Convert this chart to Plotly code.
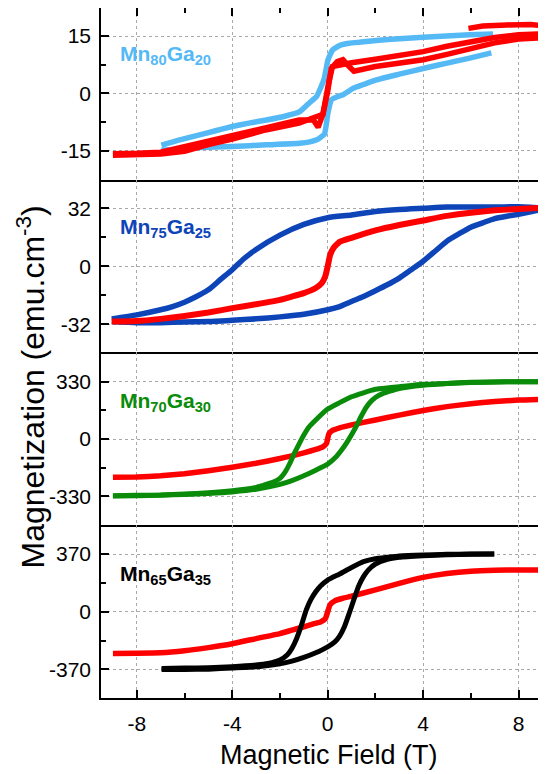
import plotly.graph_objects as go

# ---------------- Data ----------------
# Panel 1: Mn80Ga20
h_mn80_down = [6.93, 5.95, 4.0, 3.0, 2.04, 1.4, 0.9, 0.5, 0.2, 0.01, -0.15, -0.47, -0.75, -1.17, -1.8, -2.57, -3.3, -4.0, -4.7, -5.37, -6.2, -6.97]
m_mn80_down = [15.5, 15.3, 14.7, 14.3, 13.8, 13.4, 13.1, 12.5, 11.3, 8.7, 3.7, -0.9, -2.4, -4.8, -6.0, -7.0, -7.8, -8.7, -9.8, -10.9, -12.2, -13.6]
h_mn80_up = [-6.97, -6.0, -5.37, -4.0, -2.57, -1.17, -0.75, -0.4, -0.13, 0.01, 0.15, 0.4, 0.64, 1.06, 1.5, 2.04, 3.0, 4.0, 5.0, 5.95, 6.86]
m_mn80_up = [-14.9, -14.5, -14.2, -13.9, -13.5, -13.1, -12.7, -12.0, -10.6, -5.2, -1.75, -0.9, -0.4, 1.3, 2.3, 3.5, 5.0, 6.5, 7.9, 9.2, 10.6]

h_mn80_ref_top = [5.9, 6.5, 7.5, 8.5, 9.1]
m_mn80_ref_top = [17.0, 17.6, 17.9, 18.0, 17.6]
h_mn80_ref_down = [9.1, 8.0, 7.0, 6.0, 5.0, 4.0, 3.0, 2.0, 1.0, 0.5, 0.2, 0.05, -0.1, -0.2, -0.4, -0.6, -1.2, -2.6, -4.0, -5.0, -6.0, -7.0, -8.0, -9.0]
m_mn80_ref_down = [15.6, 15.3, 14.6, 13.6, 12.3, 10.9, 9.8, 8.9, 8.0, 7.6, 7.0, 3.0, -2.5, -5.5, -8.9, -7.0, -7.0, -9.0, -11.0, -12.3, -14.0, -15.4, -15.7, -15.8]
h_mn80_ref_up = [-9.0, -7.0, -6.0, -5.0, -4.0, -2.6, -1.2, -0.6, -0.2, 0.0, 0.15, 0.4, 0.64, 0.9, 1.1, 2.0, 3.0, 4.0, 5.0, 6.0, 7.0, 8.0, 9.1]
m_mn80_ref_up = [-16.2, -15.9, -15.2, -13.4, -12.0, -9.6, -7.8, -6.5, -5.5, 0.5, 6.5, 8.3, 8.8, 7.0, 5.8, 7.0, 7.9, 8.8, 10.2, 11.8, 13.2, 14.2, 14.6]

# Panel 2: Mn75Ga25
h_mn75_down = [9.05, 8.5, 8.0, 7.0, 6.0, 5.0, 4.0, 3.0, 2.0, 1.0, 0.0, -1.0, -2.0, -3.0, -3.5, -4.0, -4.5, -5.0, -5.5, -6.0, -6.5, -7.0, -8.0, -9.05]
m_mn75_down = [32.0, 32.6, 32.9, 32.7, 32.7, 32.7, 32.0, 31.3, 30.2, 28.3, 26.8, 23.1, 17.2, 9.3, 4.3, -1.9, -7.4, -13.0, -16.7, -19.8, -22.2, -24.0, -26.8, -29.0]
h_mn75_up = [-9.05, -8.0, -7.0, -6.0, -5.0, -4.0, -3.0, -2.0, -1.0, 0.0, 0.5, 1.0, 1.5, 2.0, 2.5, 3.0, 3.5, 4.0, 4.5, 5.0, 5.5, 6.0, 6.5, 7.0, 7.5, 8.0, 8.5, 9.05]
m_mn75_up = [-30.5, -31.1, -31.1, -30.7, -30.5, -29.8, -29.0, -27.9, -26.5, -24.0, -22.2, -19.4, -16.7, -13.5, -10.2, -6.5, -1.9, 2.8, 8.3, 13.9, 17.9, 21.6, 24.0, 26.3, 27.6, 28.7, 30.0, 31.6]
h_mn75_ref = [-9.05, -8.0, -7.0, -6.0, -5.0, -4.0, -3.0, -2.0, -1.5, -1.0, -0.5, -0.25, -0.1, 0.0, 0.1, 0.25, 0.5, 1.0, 2.0, 3.0, 4.0, 5.0, 6.0, 7.0, 8.0, 9.05]
m_mn75_ref = [-30.5, -30.2, -29.0, -27.4, -25.5, -23.1, -20.9, -18.5, -16.7, -14.8, -12.0, -9.3, -5.5, 0.0, 6.1, 10.2, 13.5, 15.7, 19.8, 22.8, 25.3, 27.8, 29.6, 30.9, 31.6, 32.4]

# Panel 3: Mn70Ga30
h_mn70_down = [8.95, 8.0, 7.0, 6.0, 5.0, 4.0, 3.0, 2.3, 2.0, 1.5, 1.0, 0.5, 0.0, -0.5, -0.8, -1.0, -1.2, -1.4, -1.6, -1.8, -2.0, -2.3, -2.7, -3.0, -4.0, -5.0, -6.0, -7.0, -8.0, -9.0]
m_mn70_down = [331, 331, 329, 327, 321, 316, 302, 292, 287, 267, 244, 210, 173, 110, 67, 23, -29, -83, -144, -194, -227, -250, -267, -279, -298, -310, -317, -323, -325, -327]
h_mn70_up = [-9.0, -8.0, -7.0, -6.0, -5.0, -4.0, -3.0, -2.0, -1.5, -1.0, -0.5, 0.0, 0.3, 0.6, 0.8, 1.0, 1.2, 1.4, 1.6, 1.8, 2.0, 2.3, 2.7, 3.0, 4.0, 5.0, 6.0, 7.0, 8.0, 8.95]
m_mn70_up = [-329, -327, -324, -320, -314, -305, -290, -262, -240, -212, -180, -145, -110, -60, -20, 25, 75, 130, 180, 215, 240, 262, 280, 292, 310, 320, 326, 329, 331, 331]
h_mn70_ref = [-9.0, -8.0, -7.0, -6.0, -5.0, -4.0, -3.0, -2.0, -1.5, -1.0, -0.5, -0.2, -0.05, 0.05, 0.2, 0.5, 1.0, 2.0, 3.0, 4.0, 5.0, 6.0, 7.0, 8.0, 8.95]
m_mn70_ref = [-221, -219, -212, -200, -183, -163, -140, -112, -97, -80, -60, -45, -25, 30, 50, 65, 82, 110, 138, 165, 187, 204, 216, 225, 229]

# Panel 4: Mn65Ga35
h_mn65_down = [6.98, 6.0, 5.0, 4.0, 3.0, 2.5, 2.0, 1.5, 1.0, 0.5, 0.0, -0.3, -0.5, -0.7, -0.9, -1.1, -1.3, -1.5, -1.7, -2.0, -2.5, -3.0, -4.0, -5.0, -6.0, -6.96]
m_mn65_down = [370, 370, 368, 364, 357, 349, 340, 321, 284, 242, 203, 165, 128, 79, 11, -86, -171, -235, -278, -310, -332, -342, -353, -359, -361, -364]
h_mn65_up = [-6.96, -6.0, -5.0, -4.0, -3.0, -2.5, -2.0, -1.5, -1.0, -0.5, 0.0, 0.3, 0.5, 0.7, 0.9, 1.1, 1.3, 1.5, 1.7, 2.0, 2.5, 3.0, 4.0, 5.0, 6.0, 6.98]
m_mn65_up = [-370, -370, -368, -361, -353, -344, -334, -317, -293, -263, -225, -193, -156, -96, -11, 79, 165, 225, 267, 306, 336, 349, 359, 366, 368, 370]
h_mn65_ref = [-9.0, -8.0, -7.0, -6.0, -5.0, -4.0, -3.0, -2.0, -1.5, -1.0, -0.6, -0.3, -0.1, 0.0, 0.1, 0.3, 0.6, 1.0, 2.0, 3.0, 4.0, 5.0, 6.0, 7.0, 8.0, 8.95]
m_mn65_ref = [-267, -266, -263, -250, -230, -205, -172, -140, -118, -97, -78, -65, -45, 0, 45, 70, 85, 100, 140, 182, 220, 245, 260, 266, 268, 268]

x_tick_vals = [-8, -4, 0, 4, 8]
x_tick_text = ["-8", "-4", "0", "4", "8"]
x_minor_vals = [-6, -2, 2, 6]
y_ticks = [15, 32, 330, 370]
y_ranges = [[-22.7, 22.33], [-47.3, 47.6], [-496, 502], [-553, 556]]
labels = [("Mn", "80", "Ga", "20"), ("Mn", "75", "Ga", "25"), ("Mn", "70", "Ga", "30"), ("Mn", "65", "Ga", "35")]

LIGHT_BLUE = "#55B9F5"
DARK_BLUE = "#0D45B8"
GREEN = "#0A8C0A"
RED = "#FF0000"
BLACK = "#000000"
label_colors = [LIGHT_BLUE, DARK_BLUE, GREEN, BLACK]

fig = go.Figure()

def add(h, m, color, width, ax, smooth=0.0):
    line = dict(color=color, width=width)
    if smooth > 0:
        line.update(shape="spline", smoothing=smooth)
    fig.add_trace(go.Scatter(x=h, y=m, mode="lines", line=line,
                             xaxis="x" if ax == 1 else f"x{ax}",
                             yaxis="y" if ax == 1 else f"y{ax}",
                             hoverinfo="skip"))

# panel 1
add(h_mn80_down, m_mn80_down, LIGHT_BLUE, 5.5, 1, 0.4)
add(h_mn80_up, m_mn80_up, LIGHT_BLUE, 5.5, 1, 0.4)
add(h_mn80_ref_top, m_mn80_ref_top, RED, 5.5, 1)
add(h_mn80_ref_down, m_mn80_ref_down, RED, 5.5, 1)
add(h_mn80_ref_up, m_mn80_ref_up, RED, 5.5, 1)
# panel 2
add(h_mn75_down, m_mn75_down, DARK_BLUE, 5.5, 2, 0.6)
add(h_mn75_up, m_mn75_up, DARK_BLUE, 5.5, 2, 0.6)
add(h_mn75_ref, m_mn75_ref, RED, 6, 2, 0.4)
# panel 3
add(h_mn70_ref, m_mn70_ref, RED, 5.5, 3, 0.4)
add(h_mn70_down, m_mn70_down, GREEN, 5, 3, 0.5)
add(h_mn70_up, m_mn70_up, GREEN, 5, 3, 0.5)
# panel 4
add(h_mn65_ref, m_mn65_ref, RED, 5.5, 4, 0.4)
add(h_mn65_down, m_mn65_down, BLACK, 5, 4, 0.5)
add(h_mn65_up, m_mn65_up, BLACK, 5, 4, 0.5)

TICKFONT = dict(family="Liberation Sans, Arial, sans-serif", size=21, color="black")
GRID = dict(showgrid=True, gridcolor="#A8A8A8", gridwidth=1, griddash="3px,3px")
# page is drawn with an 8px body margin; plot area spans page y 8..698, x 101..546
domains = [[0.7507, 1.0], [0.5014, 0.7507], [0.2507, 0.5014], [0.0, 0.2507]]

layout = dict(width=538, height=766, margin=dict(l=93, r=0, t=0, b=76, autoexpand=False),
              plot_bgcolor="white", paper_bgcolor="white", showlegend=False,
              font=dict(family="Liberation Sans, Arial, sans-serif", color="black"))

for i in range(1, 5):
    xname = "xaxis" if i == 1 else f"xaxis{i}"
    yname = "yaxis" if i == 1 else f"yaxis{i}"
    xa = dict(range=[-9.5, 9.15], domain=[0, 1], anchor="y" if i == 1 else f"y{i}",
              automargin=False, showline=True, linecolor="black", linewidth=1.5,
              zeroline=False, tickmode="array", tickvals=x_tick_vals, ticktext=x_tick_text,
              **GRID)
    if i == 1:
        xa.update(side="top", mirror=True, ticks="inside", ticklen=8, tickwidth=1.5,
                  tickcolor="black", showticklabels=False,
                  minor=dict(tickmode="array", tickvals=x_minor_vals, ticks="inside", ticklen=5,
                             tickwidth=1.5, tickcolor="black", showgrid=False))
    elif i == 4:
        xa.update(side="bottom", ticks="inside", ticklen=8, tickwidth=1.5, tickcolor="black",
                  showticklabels=True, tickfont=TICKFONT, ticklabelstandoff=6,
                  minor=dict(tickmode="array", tickvals=x_minor_vals, ticks="inside", ticklen=5,
                             tickwidth=1.5, tickcolor="black", showgrid=False))
    else:
        xa.update(side="bottom", ticks="", showticklabels=False)
    layout[xname] = xa
    t = y_ticks[i - 1]
    ya = dict(range=y_ranges[i - 1], domain=domains[i - 1], anchor="x" if i == 1 else f"x{i}",
              automargin=False, showline=True, linecolor="black", linewidth=1.5, mirror=False,
              zeroline=False, tickmode="array", tickvals=[-t, 0, t],
              ticktext=[f"-{t}", "0", f"{t}"],
              ticks="inside", ticklen=8, tickwidth=1.5, tickcolor="black",
              tickfont=TICKFONT, ticklabelstandoff=4,
              minor=dict(tickmode="array", tickvals=[-t / 2, t / 2], ticks="inside", ticklen=5,
                         tickwidth=1.5, tickcolor="black", showgrid=False),
              **GRID)
    layout[yname] = ya

fig.update_layout(**layout)

def px_to_paper_x(px):
    return (px - 101) / 445

def px_to_paper_y(py):
    return (698 - py) / 690

# composition labels
label_cap_centers = [51, 224, 397.5, 571]
for (a, s1, b, s2), col, py in zip(labels, label_colors, label_cap_centers):
    fig.add_annotation(text=f"<b>{a}<sub>{s1}</sub>{b}<sub>{s2}</sub></b>",
                       xref="paper", yref="paper",
                       x=px_to_paper_x(118), y=px_to_paper_y(py + 4),
                       xanchor="left", yanchor="middle", showarrow=False,
                       font=dict(family="Liberation Sans, Arial, sans-serif", size=21, color=col))

# axis titles
fig.add_annotation(text="Magnetization (emu.cm<sup>-3</sup>)", xref="paper", yref="paper",
                   x=px_to_paper_x(30), y=px_to_paper_y(387.5), textangle=-90,
                   xanchor="center", yanchor="middle", showarrow=False,
                   font=dict(family="Liberation Sans, Arial, sans-serif", size=32, color="black"))
fig.add_annotation(text="Magnetic Field (T)", xref="paper", yref="paper",
                   x=px_to_paper_x(328.5), y=px_to_paper_y(755),
                   xanchor="center", yanchor="middle", showarrow=False,
                   font=dict(family="Liberation Sans, Arial, sans-serif", size=27, color="black"))

fig.write_html("out.html")
